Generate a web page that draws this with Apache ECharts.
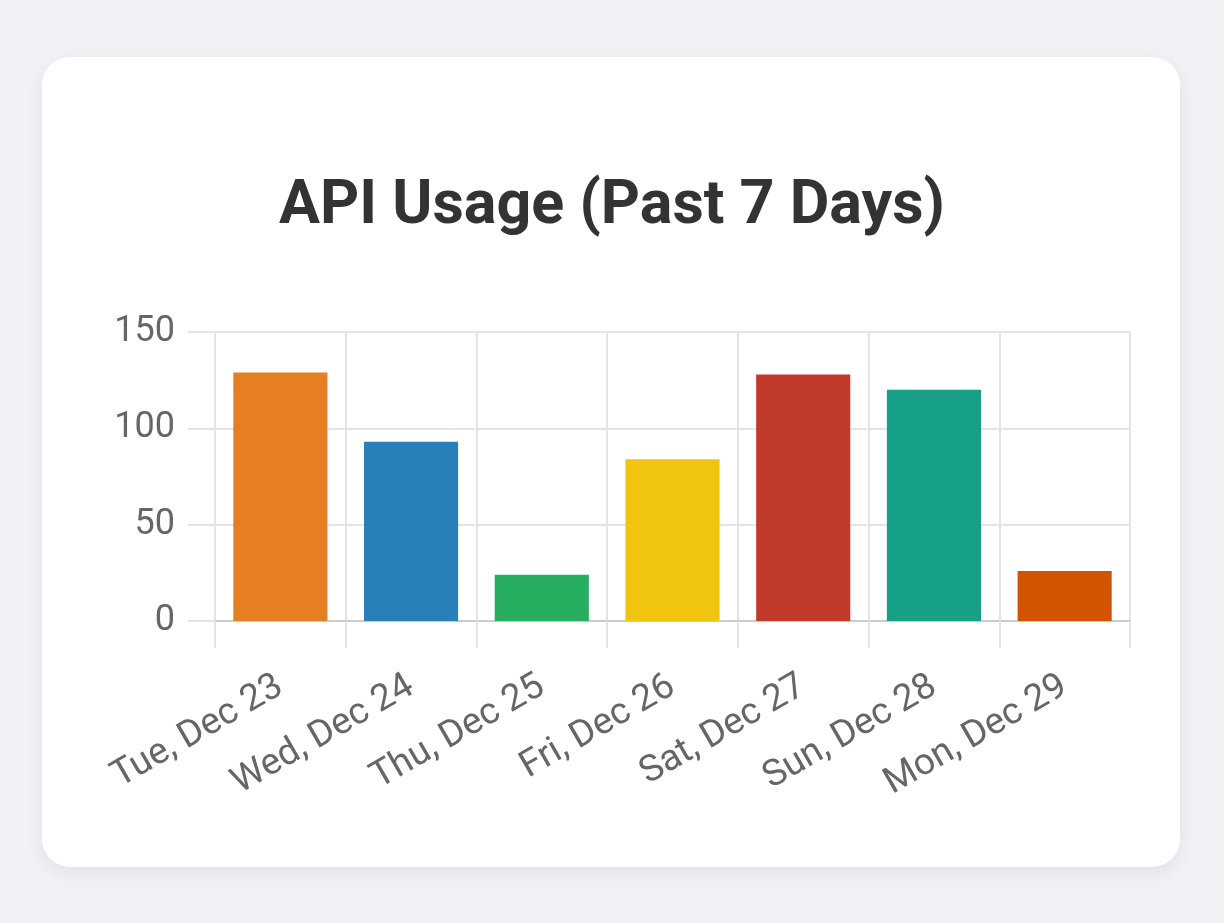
<!DOCTYPE html>
<html>
<head>
<meta charset="utf-8">
<script src="https://cdn.jsdelivr.net/npm/echarts@6/dist/echarts.min.js"></script>
<style>
    html, body { margin: 0; padding: 0; background: #f0f2f5; }
    .card {
        position: absolute; left: 42px; top: 57px; width: 1138px; height: 810px;
        background: #fff; border-radius: 28px;
        box-shadow: 0 6px 20px rgba(0, 0, 0, 0.07);
    }
    #usageChart { position: absolute; left: 0; top: 0; width: 1224px; height: 923px; }
</style>
</head>
<body>
<div class="card"></div>
<div id="usageChart"></div>
<script>
const days = ['Tue, Dec 23', 'Wed, Dec 24', 'Thu, Dec 25', 'Fri, Dec 26', 'Sat, Dec 27', 'Sun, Dec 28', 'Mon, Dec 29'];
const requests = [129, 93, 24, 84, 128, 120, 26];
const barColors = ['#e67e22', '#2980b9', '#27ae60', '#f1c40f', '#c0392b', '#16a085', '#d35400'];

const usageChart = echarts.init(document.getElementById('usageChart'));
usageChart.setOption({
    backgroundColor: 'transparent',
    textStyle: { fontFamily: 'Roboto' },
    title: {
        text: 'API Usage (Past 7 Days)',
        left: 'center',
        top: 172,
        textStyle: {
            fontFamily: 'Roboto',
            fontSize: 61,
            fontWeight: 'bold',
            color: '#333'
        }
    },
    grid: {
        left: 215,
        right: 94,
        top: 332,
        bottom: 302,
        containLabel: false,
        outerBoundsMode: 'none'
    },
    xAxis: {
        type: 'category',
        data: days,
        boundaryGap: true,
        axisLine: { lineStyle: { color: '#cccccc', width: 2 } },
        axisTick: { show: true, length: 27, lineStyle: { color: '#e4e4e4', width: 2 } },
        splitLine: { show: true, lineStyle: { color: '#e4e4e4', width: 2 } },
        axisLabel: {
            rotate: 30,
            margin: 63,
            fontSize: 37,
            color: '#666'
        }
    },
    yAxis: {
        type: 'value',
        min: 0,
        max: 150,
        interval: 50,
        axisLine: { show: true, lineStyle: { color: '#e4e4e4', width: 2 } },
        axisTick: { show: true, length: 27, lineStyle: { color: '#e4e4e4', width: 2 } },
        splitLine: { lineStyle: { color: '#e4e4e4', width: 2 } },
        axisLabel: {
            margin: 40,
            fontSize: 36,
            color: '#666'
        }
    },
    series: [
        {
            type: 'bar',
            barWidth: '72%',
            data: requests.map((v, i) => ({
                value: v,
                itemStyle: { color: barColors[i] }
            }))
        }
    ]
});
</script>
</body>
</html>
